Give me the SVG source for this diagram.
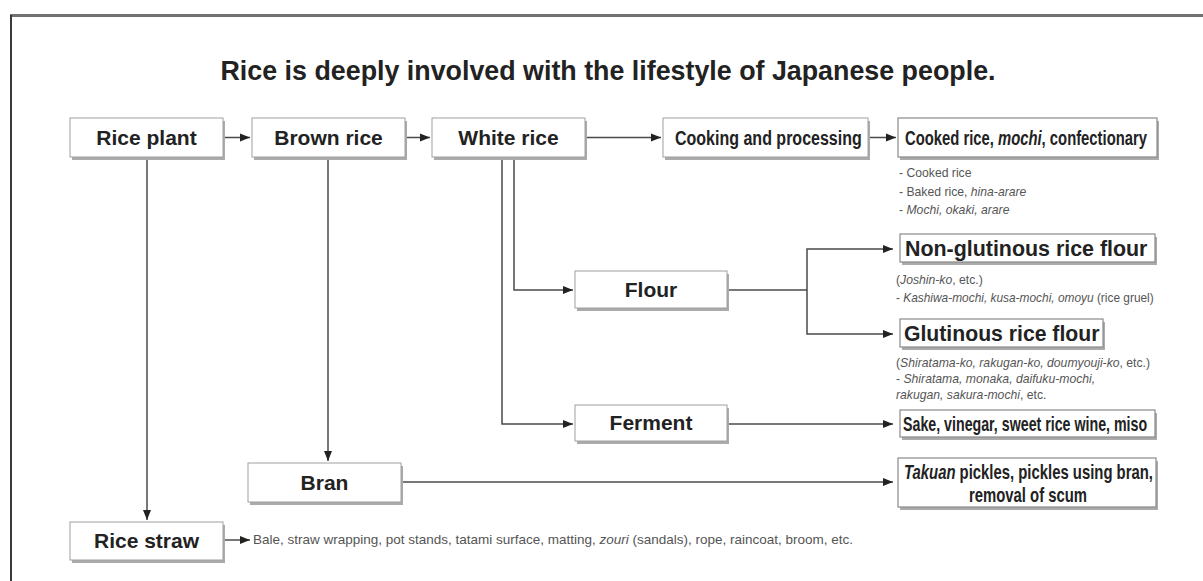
<svg xmlns="http://www.w3.org/2000/svg" width="1203" height="581" viewBox="0 0 1203 581">
<defs>
<style>
.sh{fill:#ababab}
.bx{fill:#fff;stroke:#a0a0a0;stroke-width:1}
.rb{fill:#fff;stroke:#8a8a8a;stroke-width:1.2}
.lb{font-family:"Liberation Sans",Arial,sans-serif;font-weight:bold;font-size:21px;fill:#222;text-anchor:middle}
.cd{font-family:"Liberation Sans",Arial,sans-serif;font-weight:bold;font-size:21px;fill:#222}
.c20{font-size:20px}
.nt{font-family:"Liberation Sans",Arial,sans-serif;font-size:12.2px;fill:#555}
.ln{fill:none;stroke:#4a4a4a;stroke-width:1.5}
.ar{fill:none;stroke:#4a4a4a;stroke-width:1.5;marker-end:url(#ah)}
</style>
<marker id="ah" markerUnits="userSpaceOnUse" markerWidth="11" markerHeight="9" refX="10" refY="4.5" orient="auto">
<path d="M0,0.5 L10,4.5 L0,8.5 z" fill="#222"/>
</marker>
</defs>
<rect width="1203" height="581" fill="#fff"/>
<g id="frame">
<path d="M10,15.5 H1203" stroke="#717171" stroke-width="3" fill="none"/>
<path d="M11,15 V581" stroke="#3a3a3a" stroke-width="2" fill="none"/>
</g>
<text id="title" x="608" y="80" font-family="Liberation Sans, Arial, sans-serif" font-weight="bold" font-size="27" fill="#222" text-anchor="middle" textLength="775" lengthAdjust="spacingAndGlyphs">Rice is deeply involved with the lifestyle of Japanese people.</text>

<g id="connectors">
<path class="ar" d="M223,137.5 H250"/>
<path class="ar" d="M405,137.5 H430"/>
<path class="ar" d="M585,137.5 H661"/>
<path class="ar" d="M868,137.5 H896"/>
<path class="ar" d="M147,157 V520"/>
<path class="ar" d="M328,157 V461"/>
<path class="ar" d="M514,157 V290 H573"/>
<path class="ar" d="M502,157 V424 H573"/>
<path class="ln" d="M727,290 H807"/>
<path class="ar" d="M807,290 V249 H893"/>
<path class="ar" d="M807,290 V334 H893"/>
<path class="ar" d="M727,424 H893"/>
<path class="ar" d="M401,482 H893"/>
<path class="ar" d="M225,540 H250"/>
</g>

<g id="rice-plant">
<rect class="sh" x="72" y="121" width="153" height="39"/>
<rect class="bx" x="70" y="118" width="153" height="39"/>
<text class="lb" x="146.5" y="145">Rice plant</text>
</g>
<g id="brown-rice">
<rect class="sh" x="254" y="121" width="153" height="39"/>
<rect class="bx" x="252" y="118" width="153" height="39"/>
<text class="lb" x="328.5" y="145">Brown rice</text>
</g>
<g id="white-rice">
<rect class="sh" x="434" y="121" width="153" height="39"/>
<rect class="bx" x="432" y="118" width="153" height="39"/>
<text class="lb" x="508.5" y="145">White rice</text>
</g>
<g id="cooking">
<rect class="sh" x="665" y="121" width="205" height="39"/>
<rect class="bx" x="663" y="118" width="205" height="39"/>
<text class="cd" transform="translate(675,145) scale(0.763,1)" x="0" y="0">Cooking and processing</text>
</g>
<g id="cooked">
<rect class="sh" x="900" y="121" width="259" height="39"/>
<rect class="rb" x="898" y="118" width="259" height="39"/>
<text class="cd" transform="translate(905,145) scale(0.706,1)" x="0" y="0">Cooked rice, <tspan font-style="italic">mochi</tspan>, confectionary</text>
<text class="nt" x="899" y="177">- Cooked rice</text>
<text class="nt" x="899" y="196">- Baked rice, <tspan font-style="italic">hina-arare</tspan></text>
<text class="nt" x="899" y="214">- <tspan font-style="italic">Mochi, okaki, arare</tspan></text>
</g>
<g id="flour">
<rect class="sh" x="577" y="274" width="152" height="37"/>
<rect class="bx" x="575" y="271" width="152" height="37"/>
<text class="lb" x="651" y="297">Flour</text>
</g>
<g id="ferment">
<rect class="sh" x="577" y="408" width="152" height="36"/>
<rect class="bx" x="575" y="405" width="152" height="36"/>
<text class="lb" x="651" y="430">Ferment</text>
</g>
<g id="non-glutinous">
<rect class="sh" x="902" y="237" width="255" height="28"/>
<rect class="rb" x="900" y="234" width="255" height="28"/>
<text class="cd" x="905" y="256" style="font-size:21.4px">Non-glutinous rice flour</text>
<text class="nt" x="896" y="284">(<tspan font-style="italic">Joshin-ko</tspan>, etc.)</text>
<text class="nt" x="896" y="302" style="font-size:11.9px">- <tspan font-style="italic">Kashiwa-mochi, kusa-mochi, omoyu</tspan> (rice gruel)</text>
</g>
<g id="glutinous">
<rect class="sh" x="902" y="322" width="203" height="28"/>
<rect class="rb" x="900" y="319" width="203" height="28"/>
<text class="cd" x="904" y="341" style="font-size:21.2px">Glutinous rice flour</text>
<text class="nt" x="896" y="367">(<tspan font-style="italic">Shiratama-ko, rakugan-ko, doumyouji-ko</tspan>, etc.)</text>
<text class="nt" x="896" y="383">- <tspan font-style="italic">Shiratama, monaka, daifuku-mochi,</tspan></text>
<text class="nt" x="896" y="399"><tspan font-style="italic">rakugan, sakura-mochi</tspan>, etc.</text>
</g>
<g id="sake">
<rect class="sh" x="902" y="413" width="255" height="27"/>
<rect class="rb" x="900" y="410" width="255" height="27"/>
<text class="cd c20" transform="translate(903,431) scale(0.711,1)" x="0" y="0">Sake, vinegar, sweet rice wine, miso</text>
</g>
<g id="bran">
<rect class="sh" x="250" y="466" width="153" height="39"/>
<rect class="bx" x="248" y="463" width="153" height="39"/>
<text class="lb" x="324.5" y="490">Bran</text>
</g>
<g id="takuan">
<rect class="sh" x="900" y="461" width="258" height="49"/>
<rect class="rb" x="898" y="458" width="258" height="49"/>
<text class="cd c20" transform="translate(904,479) scale(0.744,1)" x="0" y="0"><tspan font-style="italic">Takuan</tspan> pickles, pickles using bran,</text>
<text class="cd c20" transform="translate(1028,502) scale(0.744,1)" x="0" y="0" text-anchor="middle">removal of scum</text>
</g>
<g id="rice-straw">
<rect class="sh" x="72" y="525" width="153" height="38"/>
<rect class="bx" x="70" y="522" width="153" height="38"/>
<text class="lb" x="146.5" y="548">Rice straw</text>
<text class="nt" x="253" y="544" textLength="600" lengthAdjust="spacingAndGlyphs">Bale, straw wrapping, pot stands, tatami surface, matting, <tspan font-style="italic">zouri</tspan> (sandals), rope, raincoat, broom, etc.</text>
</g>
</svg>
